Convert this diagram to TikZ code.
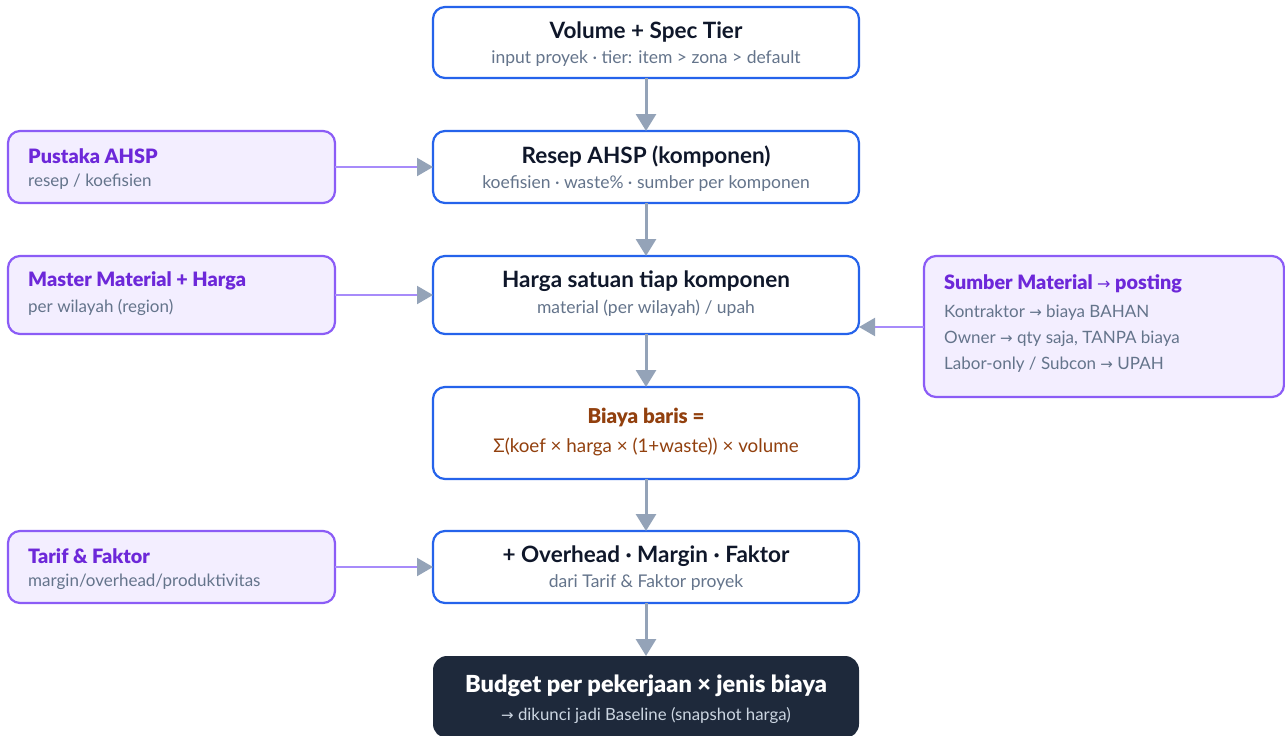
\documentclass[tikz,border=0pt]{standalone}
\usepackage{fontspec}
\setmainfont{Lato}
\newfontfamily\blackfont{Lato Black}
\newfontfamily\arrfont{DejaVu Sans}
\usetikzlibrary{arrows.meta}
\definecolor{blueB}{HTML}{2563EB}
\definecolor{purB}{HTML}{8B5CF6}
\definecolor{purF}{HTML}{F3EEFF}
\definecolor{purT}{HTML}{6D28D9}
\definecolor{purL}{HTML}{A78BFA}
\definecolor{grayA}{HTML}{94A3B8}
\definecolor{subT}{HTML}{64748B}
\definecolor{titT}{HTML}{0F172A}
\definecolor{brownT}{HTML}{92400E}
\definecolor{darkF}{HTML}{1E293B}
\definecolor{darkS}{HTML}{CBD5E1}
\newcommand{\arr}{{\arrfont\fontsize{15}{15}\selectfont →}}
\tikzset{
  x=1pt,y=-1pt,
  mainbox/.style={draw=blueB, line width=2.2pt, fill=white, rounded corners=12pt, anchor=north west, inner sep=0pt, outer sep=0pt},
  sidebox/.style={draw=purB, line width=2.2pt, fill=purF, rounded corners=12pt, anchor=north west, inner sep=0pt, outer sep=0pt},
  darkbox/.style={draw=none, fill=darkF, rounded corners=14pt, anchor=north west, inner sep=0pt, outer sep=0pt},
  ttl/.style={font=\fontsize{22.5}{24}\selectfont\bfseries, text=titT, inner sep=0pt},
  sub/.style={font=\fontsize{17.5}{19}\selectfont, text=subT, inner sep=0pt},
  sttl/.style={font=\fontsize{19.8}{22}\selectfont\blackfont, text=purT, inner sep=0pt, anchor=west},
  ssub/.style={font=\fontsize{17}{19}\selectfont, text=subT, inner sep=0pt, anchor=west},
  varrow/.style={draw=grayA, line width=3pt, -{Triangle[width=20pt,length=17pt]}},
  harrow/.style={draw=purL, line width=2pt, -{Triangle[width=18pt,length=16pt,color=grayA]}},
}
\begin{document}
\begin{tikzpicture}
\useasboundingbox (0,0) rectangle (1285,736);
% main column
\node[mainbox, minimum width=426pt, minimum height=71pt] (b1) at (433,7) {};
\node[ttl] (t1) at (646,32) {Volume + Spec Tier};
\node[sub] (s1) at (646,59) {input proyek · tier: item > zona > default};

\node[mainbox, minimum width=426pt, minimum height=72pt] (b2) at (433,131) {};
\node[ttl] (t2) at (646,157) {Resep AHSP (komponen)};
\node[sub] (s2) at (646,184) {koefisien · waste\% · sumber per komponen};

\node[mainbox, minimum width=426pt, minimum height=78pt] (b3) at (433,256) {};
\node[ttl] (t3) at (646,281) {Harga satuan tiap komponen};
\node[sub] (s3) at (646,308) {material (per wilayah) / upah};

\node[mainbox, minimum width=426pt, minimum height=92pt] (b4) at (433,387) {};
\node[ttl, text=brownT, font=\fontsize{20.5}{22}\selectfont\blackfont] (t4) at (646,417) {Biaya baris =};
\node[sub, text=brownT, font=\fontsize{18.8}{20}\selectfont] (s4) at (646,447) {Σ(koef × harga × (1+waste)) × volume};

\node[mainbox, minimum width=426pt, minimum height=72pt] (b5) at (433,531) {};
\node[ttl] (t5) at (646,556) {+ Overhead · Margin · Faktor};
\node[sub] (s5) at (646,583) {dari Tarif \& Faktor proyek};

\node[darkbox, minimum width=426pt, minimum height=82pt] (b6) at (433,656) {};
\node[ttl, text=white, font=\fontsize{23.5}{25}\selectfont\blackfont] (t6) at (646,686) {Budget per pekerjaan × jenis biaya};
\node[sub, text=darkS, font=\fontsize{16.8}{18}\selectfont] (s6) at (646,716) {\arr\ dikunci jadi Baseline (snapshot harga)};

% side boxes
\node[sidebox, minimum width=327pt, minimum height=72pt] (p1) at (8,131) {};
\node[sttl] (pt1) at (28,156) {Pustaka AHSP};
\node[ssub] (ps1) at (28,182) {resep / koefisien};

\node[sidebox, minimum width=327pt, minimum height=78pt] (p2) at (8,256) {};
\node[sttl] (pt2) at (28,281) {Master Material + Harga};
\node[ssub] (ps2) at (28,307) {per wilayah (region)};

\node[sidebox, minimum width=327pt, minimum height=72pt] (p3) at (8,531) {};
\node[sttl] (pt3) at (28,556) {Tarif \& Faktor};
\node[ssub] (ps3) at (28,582) {margin/overhead/produktivitas};

\node[sidebox, minimum width=360pt, minimum height=141pt] (p4) at (924,256) {};
\node[sttl] (pt4) at (944,284) {Sumber Material {\arrfont\fontsize{16}{16}\selectfont →} posting};
\node[ssub] (pl1) at (944,313) {Kontraktor \arr\ biaya BAHAN};
\node[ssub] (pl2) at (944,339) {Owner \arr\ qty saja, TANPA biaya};
\node[ssub] (pl3) at (944,365) {Labor-only / Subcon \arr\ UPAH};

% vertical arrows
\draw[varrow] (b1.south) -- (b2.north);
\draw[varrow] (b2.south) -- (b3.north);
\draw[varrow] (b3.south) -- (b4.north);
\draw[varrow] (b4.south) -- (b5.north);
\draw[varrow] (b5.south) -- (b6.north);
% horizontal arrows
\draw[harrow] (p1.east) -- (b2.west);
\draw[harrow] (p2.east |- 0,295) -- (b3.west |- 0,295);
\draw[harrow] (p3.east) -- (b5.west);
\draw[harrow] (p4.west |- 0,327) -- (b3.east |- 0,327);
\end{tikzpicture}
\end{document}
